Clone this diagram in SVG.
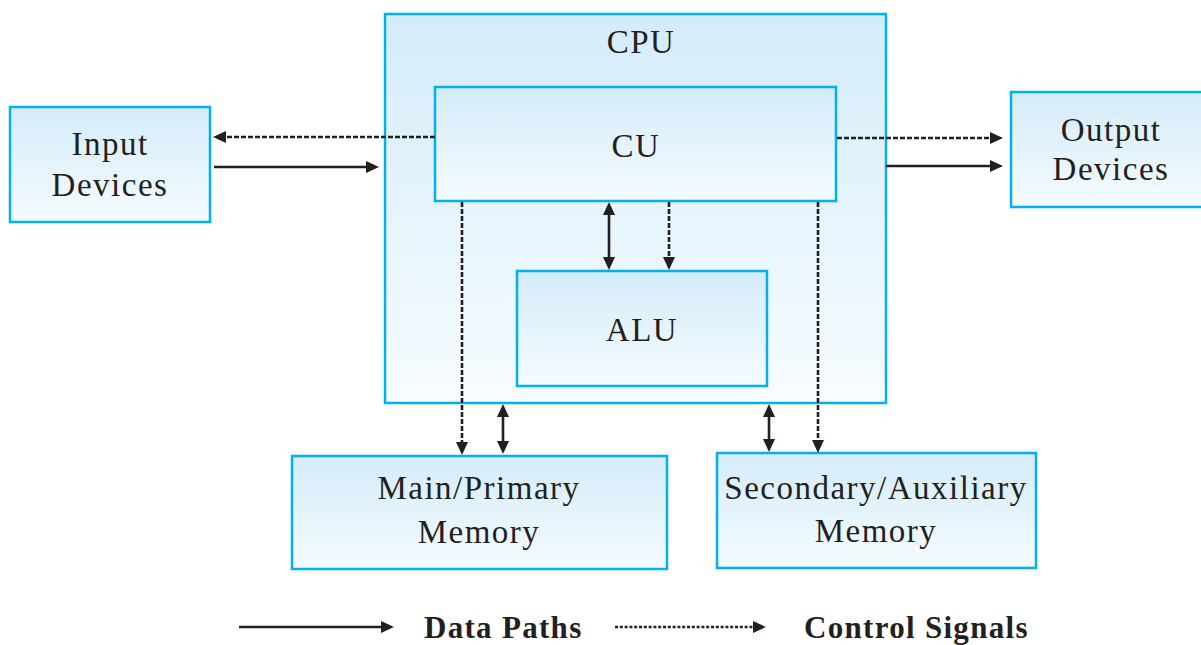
<svg xmlns="http://www.w3.org/2000/svg" width="1201" height="645" viewBox="0 0 1201 645">
<style>
.box{stroke:#00b0ef;stroke-width:2.5;fill:url(#g)}
.lbl{font-family:"Liberation Serif",serif;font-size:33px;letter-spacing:1.5px;fill:#231f20;text-anchor:middle}
.leg{font-family:"Liberation Serif",serif;font-size:31px;font-weight:bold;letter-spacing:1.3px;fill:#231f20}
.data{stroke:#231f20;stroke-width:2.6;fill:none}
.ctrl{stroke:#231f20;stroke-width:2.6;fill:none;stroke-dasharray:5 2}
</style>
<defs>
<linearGradient id="g" x1="0" y1="0" x2="0" y2="1">
<stop offset="0" stop-color="#d4ecf9"/>
<stop offset="1" stop-color="#f5fbfe"/>
</linearGradient>
<linearGradient id="gc" x1="0" y1="0" x2="0" y2="1">
<stop offset="0" stop-color="#d4ecf9"/>
<stop offset="1" stop-color="#f7fcff"/>
</linearGradient>
<marker id="ah" viewBox="0 0 13 12" markerUnits="userSpaceOnUse" markerWidth="13" markerHeight="12" refX="9" refY="6" orient="auto-start-reverse">
<path d="M0,0 L13,6 L0,12 z" fill="#231f20"/>
</marker>
</defs>
<rect width="1201" height="645" fill="#ffffff"/>
<g id="cpu">
<rect class="box" x="385" y="14" width="501" height="389" style="fill:url(#gc)"/>
<text class="lbl" x="641" y="53">CPU</text>
</g>
<g id="cu">
<rect class="box" x="435" y="87" width="401" height="114"/>
<text class="lbl" x="636" y="157">CU</text>
</g>
<g id="alu">
<rect class="box" x="517" y="271" width="250" height="115"/>
<text class="lbl" x="642" y="341">ALU</text>
</g>
<g id="input">
<rect class="box" x="10" y="107" width="200" height="115"/>
<text class="lbl" x="110" y="155">Input</text>
<text class="lbl" x="110" y="196">Devices</text>
</g>
<g id="output">
<rect class="box" x="1011" y="92" width="192" height="115"/>
<text class="lbl" x="1111" y="141">Output</text>
<text class="lbl" x="1111" y="180">Devices</text>
</g>
<g id="main-memory">
<rect class="box" x="292" y="456" width="375" height="113"/>
<text class="lbl" x="479" y="499">Main/Primary</text>
<text class="lbl" x="479" y="543">Memory</text>
</g>
<g id="secondary-memory">
<rect class="box" x="717" y="453" width="319" height="115"/>
<text class="lbl" x="876" y="499">Secondary/Auxiliary</text>
<text class="lbl" x="876" y="542">Memory</text>
</g>
<g id="connectors">
<line class="ctrl" x1="435" y1="137" x2="217" y2="137" marker-end="url(#ah)"/>
<line class="data" x1="214" y1="167" x2="375" y2="167" marker-end="url(#ah)"/>
<line class="ctrl" x1="837" y1="138" x2="999" y2="138" marker-end="url(#ah)"/>
<line class="data" x1="886" y1="166" x2="999" y2="166" marker-end="url(#ah)"/>
<line class="ctrl" x1="462" y1="202" x2="462" y2="451" marker-end="url(#ah)"/>
<line class="data" x1="609" y1="206" x2="609" y2="266" marker-start="url(#ah)" marker-end="url(#ah)"/>
<line class="ctrl" x1="669" y1="202" x2="669" y2="266" marker-end="url(#ah)"/>
<line class="ctrl" x1="818" y1="202" x2="818" y2="449" marker-end="url(#ah)"/>
<line class="data" x1="503" y1="408" x2="503" y2="450" marker-start="url(#ah)" marker-end="url(#ah)"/>
<line class="data" x1="769" y1="408" x2="769" y2="448" marker-start="url(#ah)" marker-end="url(#ah)"/>
</g>
<g id="legend">
<line class="data" x1="239" y1="627" x2="390" y2="627" marker-end="url(#ah)"/>
<text class="leg" x="424" y="638">Data Paths</text>
<line class="ctrl" x1="615" y1="627" x2="762" y2="627" marker-end="url(#ah)" style="stroke-dasharray:3 1.8"/>
<text class="leg" x="804" y="638">Control Signals</text>
</g>
</svg>
